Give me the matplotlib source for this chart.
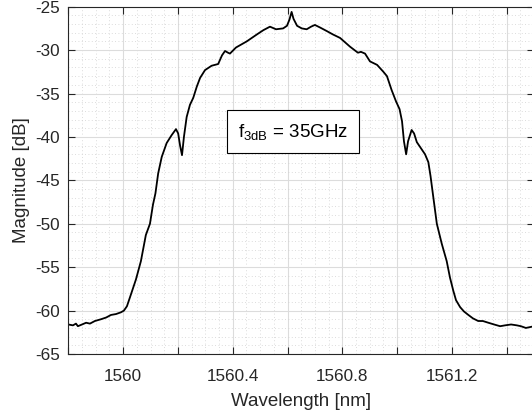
import matplotlib
matplotlib.use("Agg")
import matplotlib.pyplot as plt
from matplotlib.ticker import MultipleLocator, FixedLocator, FixedFormatter

plt.rcParams['font.family'] = ['Liberation Sans', 'DejaVu Sans']
plt.rcParams['mathtext.fontset'] = 'custom'
plt.rcParams['mathtext.rm'] = 'Liberation Sans'
plt.rcParams['mathtext.it'] = 'Liberation Sans'
plt.rcParams['axes.unicode_minus'] = False

wavelength = [1559.800, 1559.817, 1559.828, 1559.835, 1559.850, 1559.865, 1559.879,
              1559.897, 1559.919, 1559.938, 1559.956, 1559.974, 1559.992, 1560.003,
              1560.014, 1560.029, 1560.047, 1560.065, 1560.083, 1560.098, 1560.109,
              1560.118, 1560.128, 1560.141, 1560.159, 1560.177, 1560.193, 1560.201,
              1560.208, 1560.215, 1560.222, 1560.232, 1560.244, 1560.256, 1560.269,
              1560.281, 1560.299, 1560.323, 1560.347, 1560.361, 1560.372, 1560.383,
              1560.390, 1560.412, 1560.451, 1560.488, 1560.512, 1560.536, 1560.558,
              1560.584, 1560.598, 1560.607, 1560.615, 1560.622, 1560.635, 1560.652,
              1560.670, 1560.686, 1560.700, 1560.719, 1560.743, 1560.766, 1560.792,
              1560.828, 1560.857, 1560.868, 1560.883, 1560.901, 1560.927, 1560.950,
              1560.963, 1560.980, 1560.996, 1561.009, 1561.018, 1561.025, 1561.033,
              1561.040, 1561.053, 1561.062, 1561.072, 1561.087, 1561.102, 1561.114,
              1561.122, 1561.132, 1561.145, 1561.163, 1561.181, 1561.193, 1561.205,
              1561.215, 1561.230, 1561.244, 1561.260, 1561.277, 1561.296, 1561.313,
              1561.333, 1561.354, 1561.376, 1561.394, 1561.416, 1561.437, 1561.452,
              1561.470, 1561.485, 1561.500]
magnitude = [-61.6, -61.7, -61.5, -61.8, -61.6, -61.4, -61.5,
             -61.2, -61.0, -60.8, -60.5, -60.4, -60.2, -60.0,
             -59.5, -58.1, -56.4, -54.3, -51.3, -50.0, -47.8,
             -46.5, -44.2, -42.3, -40.7, -39.8, -39.1, -39.6,
             -41.0, -42.1, -40.0, -37.7, -36.3, -35.5, -34.2,
             -33.2, -32.3, -31.8, -31.6, -30.6, -30.1, -30.3,
             -30.4, -29.7, -29.0, -28.2, -27.7, -27.3, -27.6,
             -27.5, -27.2, -26.5, -25.6, -26.4, -27.2, -27.5,
             -27.6, -27.3, -27.1, -27.4, -27.8, -28.2, -28.6,
             -29.6, -30.3, -30.2, -30.4, -31.3, -31.7, -32.5,
             -33.0, -34.6, -35.9, -36.8, -38.2, -40.5, -42.0,
             -40.5, -39.2, -39.6, -40.6, -41.3, -42.0, -42.9,
             -44.5, -46.9, -50.0, -52.3, -54.3, -56.2, -57.7,
             -58.8, -59.6, -60.1, -60.5, -60.9, -61.2, -61.2,
             -61.4, -61.6, -61.8, -61.7, -61.6, -61.7, -61.8,
             -62.0, -61.9, -61.8]

x_ticks = [1559.8, 1560.0, 1560.2, 1560.4, 1560.6, 1560.8, 1561.0, 1561.2, 1561.4]
x_tick_labels = ['', '1560', '', '1560.4', '', '1560.8', '', '1561.2', '']
y_ticks = [-65, -60, -55, -50, -45, -40, -35, -30, -25]
annotation = r'f$_{\mathrm{3dB}}$ = 35GHz'

fig = plt.figure(figsize=(5.32, 4.18), dpi=100)
ax = fig.add_axes([68.3/532, 64/418, 465.8/532, 347.3/418])
ax.plot(wavelength, magnitude, color='black', lw=1.3)

ax.set_xlim(1559.8, 1561.5)
ax.set_ylim(-65, -25)
ax.xaxis.set_major_locator(FixedLocator(x_ticks))
ax.xaxis.set_major_formatter(FixedFormatter(x_tick_labels))
ax.yaxis.set_major_locator(FixedLocator(y_ticks))
ax.xaxis.set_minor_locator(MultipleLocator(0.05))
ax.yaxis.set_minor_locator(MultipleLocator(1))

dark = '#262626'
for s in ax.spines.values():
    s.set_color(dark)
    s.set_linewidth(0.8)
ax.tick_params(which='major', direction='in', length=5, width=0.8, colors=dark,
               labelsize=12.3, top=True, right=True)
ax.tick_params(which='minor', length=0, top=True, right=True)
ax.tick_params(axis='x', pad=11)
ax.tick_params(axis='y', pad=6)
ax.grid(which='major', color='#dcdcdc', lw=0.8, ls='-')
ax.grid(which='minor', color='#d0d0d0', lw=0.6, ls=(0, (1, 3)))
ax.set_axisbelow(True)

ax.set_xlabel('Wavelength [nm]', fontsize=13.5, color=dark, labelpad=6)
ax.set_ylabel('Magnitude [dB]', fontsize=13.5, color=dark, labelpad=4)

ax.text(1560.62, -39.4, annotation, fontsize=13.5, ha='center', va='center',
        color='black',
        bbox=dict(boxstyle='square,pad=0.6', facecolor='white', edgecolor='black', lw=0.8))

fig.savefig('out.png', dpi=100)
